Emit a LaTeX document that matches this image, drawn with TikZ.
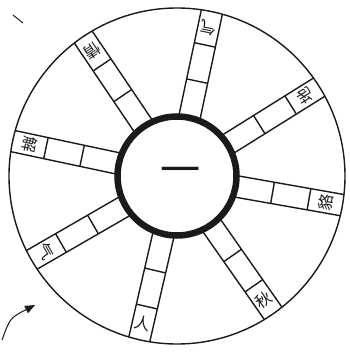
\documentclass[tikz,border=0pt]{standalone}
\usepackage{fontspec}
\newfontfamily\cjk{Noto Sans CJK SC}
\usepackage{tikz}
\usetikzlibrary{arrows.meta}
\definecolor{wheel-ink}{HTML}{1A1A1A}

\begin{document}
\begin{tikzpicture}[x=1pt,y=1pt,line width=1.4pt,draw=wheel-ink,
    spokechar/.style={font=\cjk\fontsize{16}{16}\selectfont,text=wheel-ink,inner sep=0pt}]
  \useasboundingbox (-177,-178) rectangle (172,176);
  % outer wheel
  \draw (0,0) circle (168);
  % spokes: two blank cells and one character cell each
  \foreach \a/\c [count=\i] in {78/气,32/地,-10/貉,-55/秋,-103/人,-150/气,168/解,124/情}{
    \begin{scope}[rotate=\a]
      \draw (58.5,10.75) -- (167.66,10.75);
      \draw (58.5,-10.75) -- (167.66,-10.75);
      \draw (97,-10.75) -- (97,10.75);
      \draw (134,-10.75) -- (134,10.75);
    \end{scope}
    \node[spokechar,rotate=\a+90] (ch\i) at (\a:151) {\c};
  }
  % hub
  \draw[line width=6.5pt,fill=white] (0,0) circle (59.5);
  \node[font=\cjk\fontsize{40}{40}\selectfont,text=wheel-ink] (hub) at (4,0) {一};
  % stray marks of the page
  \draw[line width=1pt] (-164,161) -- (-154,153);
  \draw[line width=1pt,-{Triangle[length=10pt,width=8pt]}] (-175,-164) .. controls (-167,-142) .. (-142,-129);
\end{tikzpicture}
\end{document}
